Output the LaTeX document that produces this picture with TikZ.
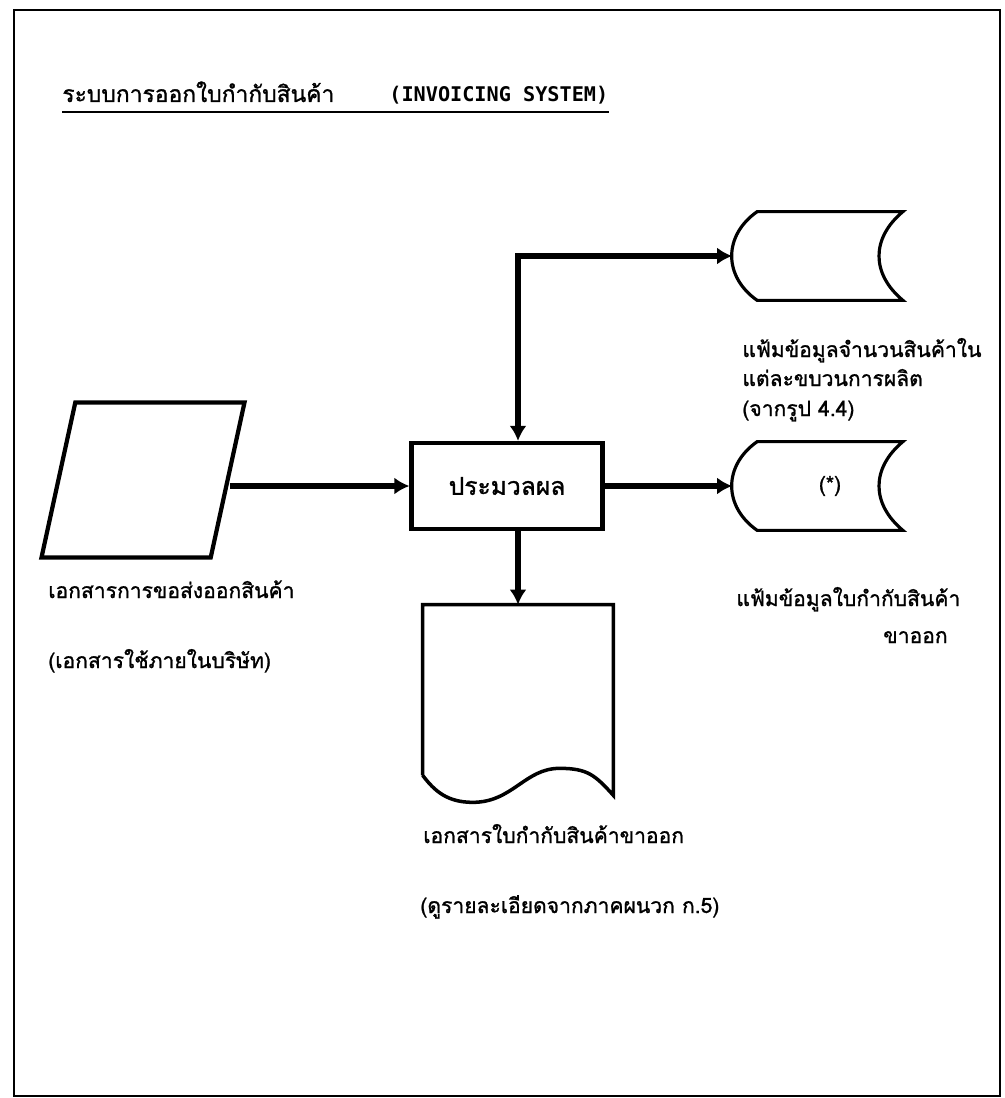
\documentclass[tikz,border=0pt]{standalone}
\usepackage{fontspec}
\newfontfamily\thaifont[Script=Thai, FakeBold=1.2]{Loma}
\setmonofont{DejaVu Sans Mono}
\usetikzlibrary{shapes.geometric,arrows.meta,positioning,calc}

\begin{document}
\begin{tikzpicture}[
    x=0.02cm, y=-0.02cm,
    lbl/.style={font=\thaifont\fontsize{12}{14}\selectfont, inner sep=0pt},
    procbox/.style={draw, line width=2.4pt, minimum width=3.82cm, minimum height=1.72cm, font=\thaifont\fontsize{14}{16}\selectfont},
    inbox/.style={trapezium, trapezium left angle=76, trapezium right angle=104, trapezium stretches=true, draw, line width=2.4pt, minimum width=4.06cm, minimum height=3.1cm},
    filebox/.style={minimum width=2.9cm, minimum height=1.76cm, inner sep=0pt, font=\thaifont\fontsize{12}{14}\selectfont},
    outline/.style={line width=1.8pt},
    flow/.style={-{Latex[length=3mm,width=3.4mm]}, line width=3.2pt},
    biflow/.style={{Latex[length=3mm,width=3.4mm]}-{Latex[length=3mm,width=3.4mm]}, line width=3.2pt}
]
    \useasboundingbox (0,0) rectangle (1004,1098);
    % page frame
    \draw[line width=1.2pt] (14,10) rectangle (1000,1096);

    % title
    \node[lbl, font=\thaifont\fontsize{13}{15}\selectfont, anchor=base west] (title) at (62,102) {ระบบการออกใบกำกับสินค้า\hspace{1.1cm}{\ttfamily\bfseries\fontsize{11.5}{13}\selectfont (INVOICING SYSTEM)}};
    \draw[line width=0.9pt] ([yshift=-0.2cm]title.base west) -- ([yshift=-0.2cm]title.base east);

    % shapes
    \node[inbox] (src) at (143,480) {};
    \node[procbox] (proc) at (507,486) {ประมวลผล\hspace{0.2cm}};
    \node[filebox] (file1) at (830,256) {};
    \node[filebox] (file2) at (830,486) {(*)\hspace{0.9cm}};
    \node[minimum width=3.8cm, minimum height=3.4cm, inner sep=0pt] (doc) at (518,690) {};

    % file outlines
    \draw[outline] (file1.north west) -- (file1.north east) to[bend right=50, looseness=1.2] (file1.south east) -- (file1.south west) to[bend left=55, looseness=1.2] (file1.north west) -- cycle;
    \draw[outline] (file2.north west) -- (file2.north east) to[bend right=50, looseness=1.2] (file2.south east) -- (file2.south west) to[bend left=55, looseness=1.2] (file2.north west) -- cycle;
    \coordinate (f1tip) at ($(file1.west)+(-25,0)$);
    \coordinate (f2tip) at ($(file2.west)+(-25,0)$);

    % document outline
    \draw[line width=2pt] ($(doc.south west)$) -- (doc.north west) -- (doc.north east) -- ($(doc.south east)+(0,20)$)
        .. controls +(-18,-20) and +(28,0) .. ($(doc.south west)+(137,-7)$)
        .. controls +(-35,0) and +(40,0) .. ($(doc.south west)+(50,27)$)
        .. controls +(-25,0) and +(12,16) .. (doc.south west);

    % connectors
    \draw[flow] (src.east |- proc.west) -- (proc.west);
    \draw[flow] (proc.east) -- (f2tip);
    \draw[flow] ([xshift=0.22cm]proc.south) -- ([xshift=0.22cm]proc.south |- doc.north);
    \draw[biflow] ([xshift=0.22cm]proc.north) |- (f1tip);

    % labels
    \node[lbl, anchor=base west] (srcname) at (48,598) {เอกสารการขอส่งออกสินค้า};
    \node[lbl, anchor=base west] (srcnote) at (48,668) {(เอกสารใช้ภายในบริษัท)};
    \node[lbl, anchor=base west] (f1name) at (742,357) {แฟ้มข้อมูลจำนวนสินค้าใน};
    \node[lbl, anchor=base west] (f1name2) at (742,386) {แต่ละขบวนการผลิต};
    \node[lbl, anchor=base west] (f1note) at (742,416) {(จากรูป 4.4)};
    \node[lbl, anchor=base west] (f2name) at (736,606) {แฟ้มข้อมูลใบกำกับสินค้า};
    \node[lbl, anchor=base east] (f2name2) at (948,643) {ขาออก};
    \node[lbl, anchor=base west] (docname) at (423,843) {เอกสารใบกำกับสินค้าขาออก};
    \node[lbl, anchor=base west] (docnote) at (420,913) {(ดูรายละเอียดจากภาคผนวก ก.5)};
\end{tikzpicture}
\end{document}
